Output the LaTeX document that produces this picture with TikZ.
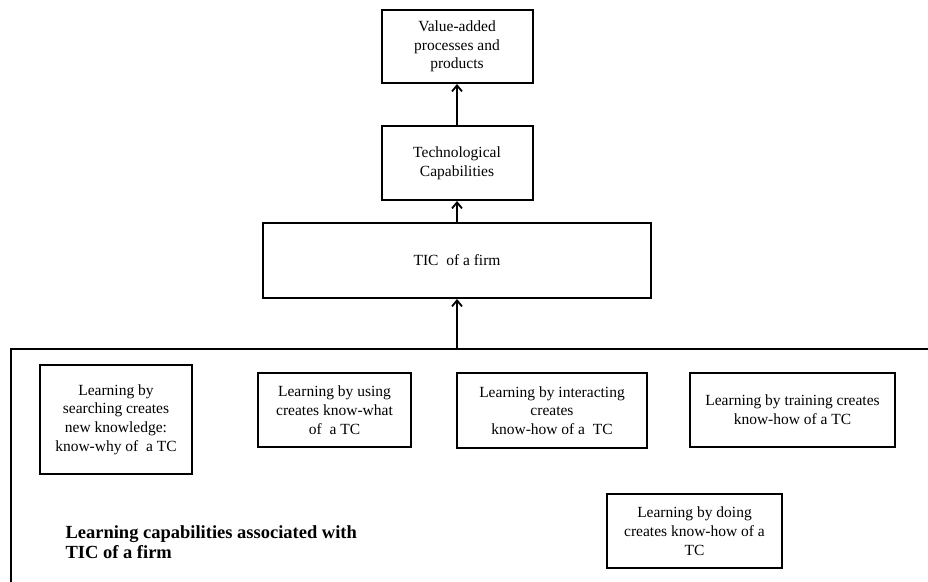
\documentclass[tikz,border=0pt]{standalone}
\usepackage{fontspec}
\setmainfont{Liberation Serif}
\usetikzlibrary{arrows.meta}
\begin{document}
\begin{tikzpicture}[x=1pt,y=-1pt,
  box/.style={draw, line width=2pt, align=center, inner sep=2pt,
    font=\fontsize{15.5}{18.7}\selectfont},
  link/.style={line width=1.8pt, -{Straight Barb[length=6pt,width=10pt,line width=1.8pt]}},
  caption/.style={align=left, anchor=west, font=\fontsize{18.5}{20.5}\selectfont\bfseries}]
\useasboundingbox (0,0) rectangle (928,581);
\clip (0,0) rectangle (928,581);

% outer frame holding the learning capabilities
\node[draw, line width=2pt, minimum width=940pt, minimum height=260pt, anchor=north west,
  inner sep=0pt] (frame) at (10,348) {};

% upper chain
\node[box, minimum width=151pt, minimum height=73pt] (value) at (457,46.5)
  {Value-added\\processes and\\products};
\node[box, minimum width=151pt, minimum height=74pt] (tech) at (457,163)
  {Technological\\Capabilities};
\node[box, minimum width=388pt, minimum height=75pt] (tic) at (457,260.5)
  {TIC\ \ of a firm};

% learning modes
\node[box, minimum width=152pt, minimum height=109pt] (search) at (116,419.5)
  {Learning by\\searching creates\\new knowledge:\\know-why of\ \ a TC};
\node[box, minimum width=153pt, minimum height=74pt] (using) at (334.5,410)
  {Learning by using\\creates know-what\\of\ \ a TC};
\node[box, minimum width=190pt, minimum height=75pt] (interact) at (552,410.5)
  {Learning by interacting\\creates\\know-how of a\ \ TC};
\node[box, minimum width=205pt, minimum height=74pt] (training) at (792.5,410)
  {Learning by training creates\\know-how of a TC};
\node[box, minimum width=175pt, minimum height=74pt] (doing) at (694.5,531)
  {Learning by doing\\creates know-how of a\\TC};

\node[caption] (label) at (62,542)
  {Learning capabilities associated with\\TIC of a firm};

% connectors
\draw[link] (tic.south |- frame.north) -- (tic.south);
\draw[link] (tic.north) -- (tech.south);
\draw[link] (tech.north) -- (value.south);
\end{tikzpicture}
\end{document}
